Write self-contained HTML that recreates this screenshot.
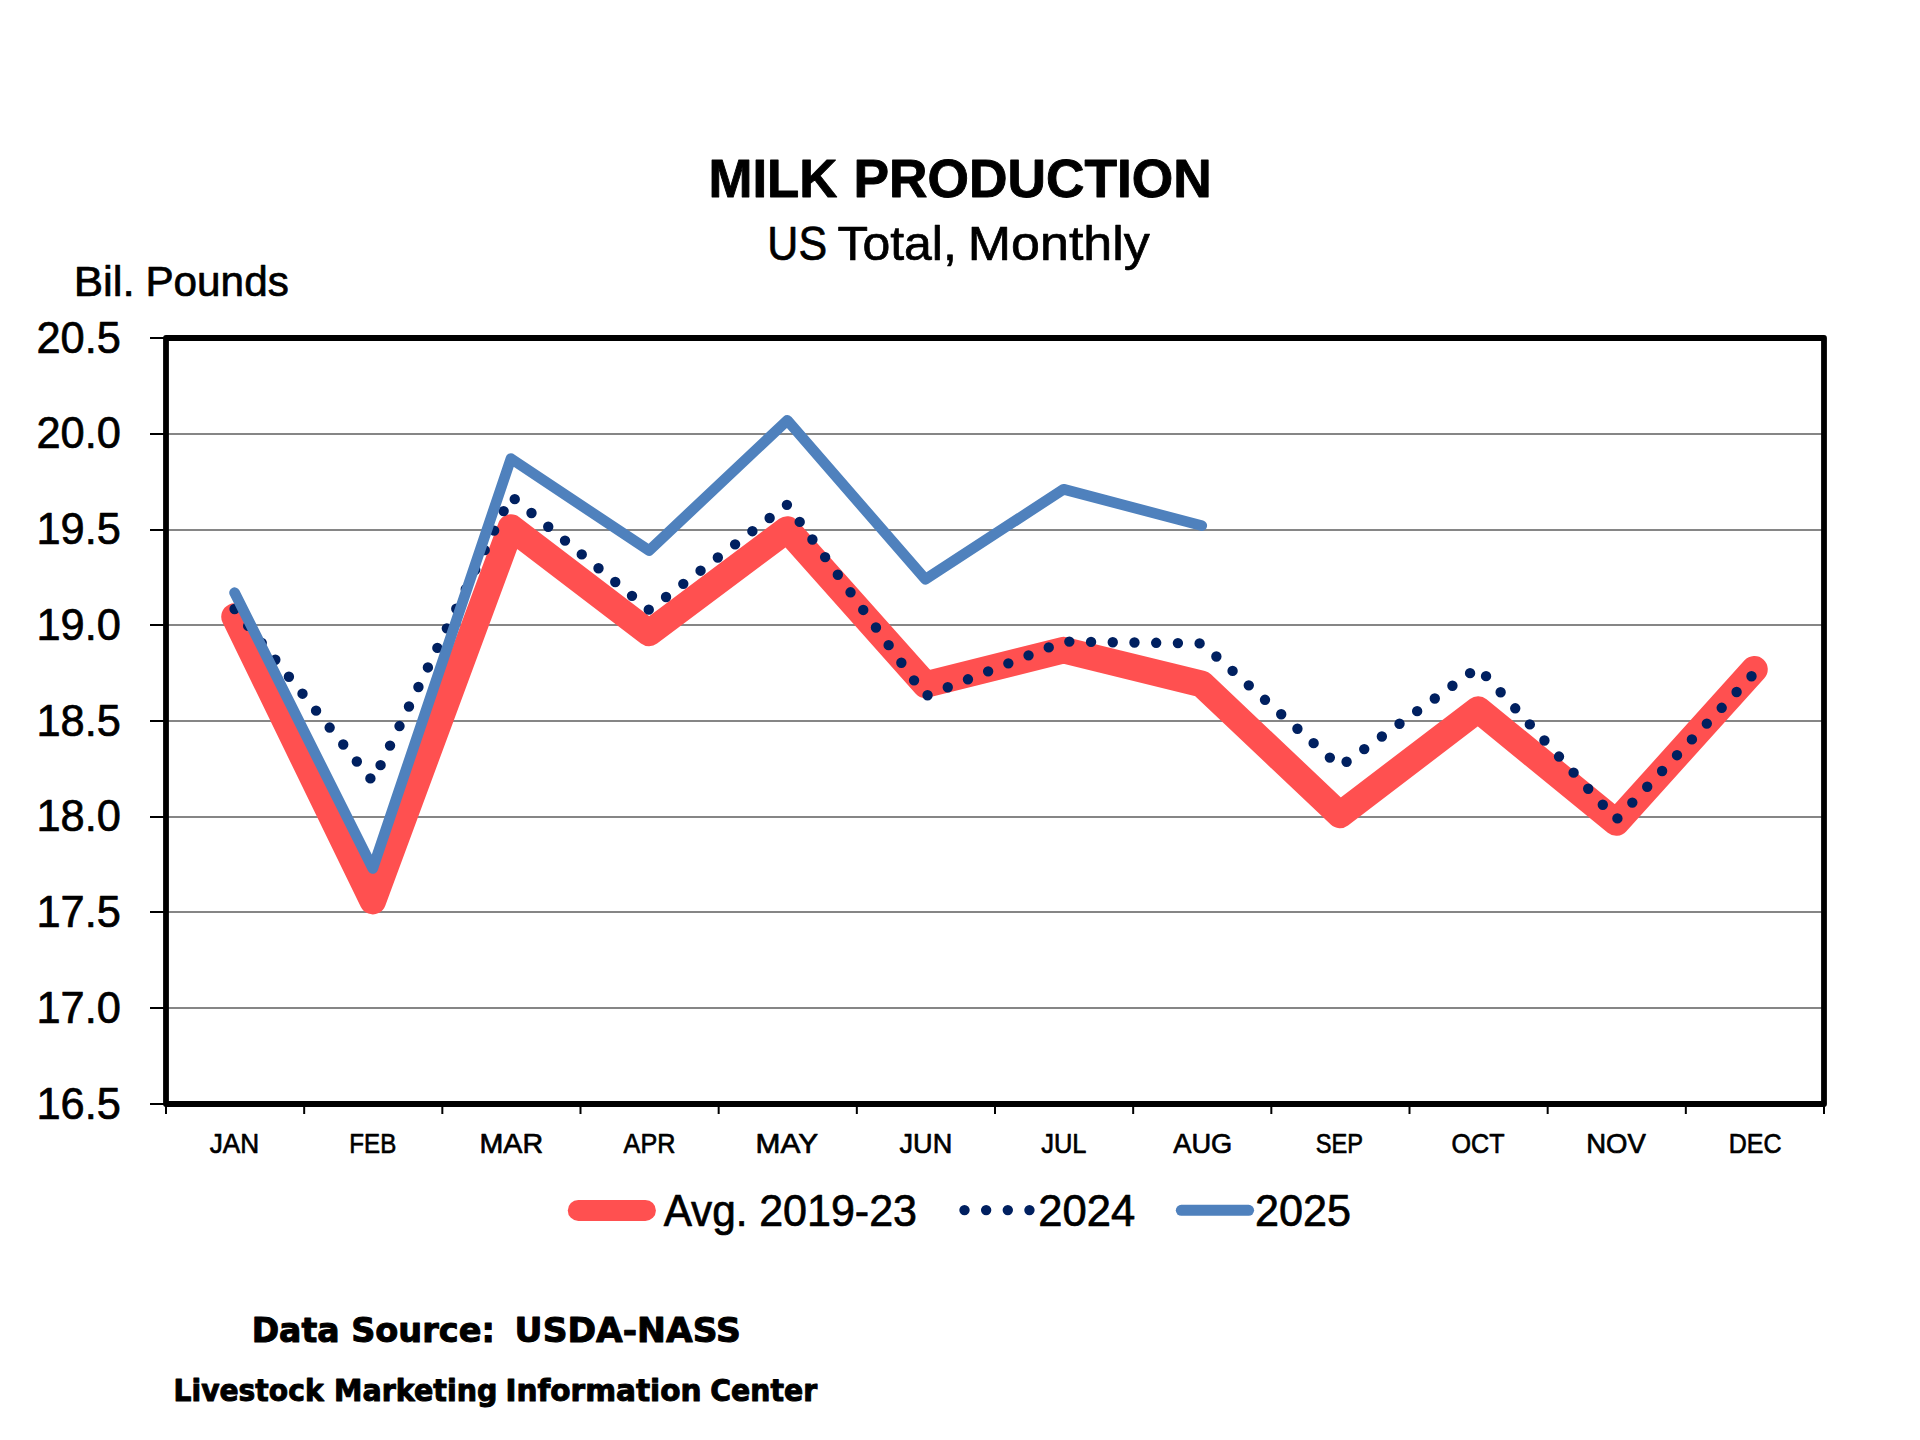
<!DOCTYPE html>
<html lang="en">
<head>
<meta charset="utf-8">
<title>Milk Production - US Total, Monthly</title>
<style>
html,body{margin:0;padding:0;background:#fff;}
body{width:1920px;height:1440px;overflow:hidden;}
svg{display:block;}
text{fill:#000;stroke:#000;stroke-linejoin:round;}
.title{font-family:"Liberation Sans",sans-serif;font-weight:bold;stroke-width:0.9px;}
.lbl{font-family:"Liberation Sans",sans-serif;font-weight:normal;stroke-width:0.7px;}
.foot{font-family:"DejaVu Sans","Liberation Sans",sans-serif;font-weight:bold;stroke-width:1px;}
.grid line{stroke:#868686;stroke-width:2;}
.ticks line{stroke:#000;stroke-width:2;}
.series polyline,.legend line{fill:none;stroke-linecap:round;stroke-linejoin:round;}
.avg{stroke:#ff5050;}
.y2024{stroke:#002060;}
.y2025{stroke:#4f81bd;}
</style>
</head>
<body>
<svg width="1920" height="1440" viewBox="0 0 1920 1440">
<rect x="0" y="0" width="1920" height="1440" fill="#ffffff"/>
<!-- horizontal gridlines -->
<g class="grid">
<line x1="166" y1="434" x2="1824" y2="434"/>
<line x1="166" y1="530" x2="1824" y2="530"/>
<line x1="166" y1="625" x2="1824" y2="625"/>
<line x1="166" y1="721" x2="1824" y2="721"/>
<line x1="166" y1="817" x2="1824" y2="817"/>
<line x1="166" y1="912" x2="1824" y2="912"/>
<line x1="166" y1="1008" x2="1824" y2="1008"/>
</g>
<!-- axis tick marks -->
<g class="ticks">
<line x1="150" y1="338" x2="166" y2="338"/>
<line x1="150" y1="434" x2="166" y2="434"/>
<line x1="150" y1="530" x2="166" y2="530"/>
<line x1="150" y1="625" x2="166" y2="625"/>
<line x1="150" y1="721" x2="166" y2="721"/>
<line x1="150" y1="817" x2="166" y2="817"/>
<line x1="150" y1="912" x2="166" y2="912"/>
<line x1="150" y1="1008" x2="166" y2="1008"/>
<line x1="150" y1="1104" x2="166" y2="1104"/>
<line x1="166.00" y1="1104" x2="166.00" y2="1114"/>
<line x1="304.17" y1="1104" x2="304.17" y2="1114"/>
<line x1="442.33" y1="1104" x2="442.33" y2="1114"/>
<line x1="580.50" y1="1104" x2="580.50" y2="1114"/>
<line x1="718.67" y1="1104" x2="718.67" y2="1114"/>
<line x1="856.83" y1="1104" x2="856.83" y2="1114"/>
<line x1="995.00" y1="1104" x2="995.00" y2="1114"/>
<line x1="1133.17" y1="1104" x2="1133.17" y2="1114"/>
<line x1="1271.33" y1="1104" x2="1271.33" y2="1114"/>
<line x1="1409.50" y1="1104" x2="1409.50" y2="1114"/>
<line x1="1547.67" y1="1104" x2="1547.67" y2="1114"/>
<line x1="1685.83" y1="1104" x2="1685.83" y2="1114"/>
<line x1="1824.00" y1="1104" x2="1824.00" y2="1114"/>
</g>
<!-- data series -->
<g class="series">
<polyline class="avg" points="234.58,616.63 372.75,901.01 510.92,527.58 649.08,632.91 787.25,529.50 925.42,684.61 1063.58,650.14 1201.75,684.04 1339.92,814.83 1478.08,709.51 1616.25,822.50 1754.42,669.30" stroke-width="26.67"/>
<polyline class="y2024" points="234.58,608.97 372.75,781.32 510.92,495.99 649.08,609.93 787.25,504.61 925.42,696.11 1063.58,641.53 1201.75,643.44 1339.92,766.58 1478.08,667.38 1616.25,819.62 1754.42,673.12" stroke-width="10.40" stroke-dasharray="0 21.715"/>
<polyline class="y2025" points="234.58,592.69 372.75,868.45 510.92,458.64 649.08,550.56 787.25,420.34 925.42,579.29 1063.58,489.28 1201.75,525.67" stroke-width="10.67"/>
</g>
<!-- plot frame -->
<rect x="166" y="338" width="1658" height="766" fill="none" stroke="#000" stroke-width="5.8" stroke-linejoin="round"/>
<!-- titles -->
<text id="title" class="title" y="197.30" font-size="53.50"><tspan x="708.51" textLength="128.90" lengthAdjust="spacingAndGlyphs">MILK</tspan> <tspan x="853.45" textLength="358.27" lengthAdjust="spacingAndGlyphs">PRODUCTION</tspan></text>
<text id="sub" class="lbl" y="260.00" font-size="49.00"><tspan x="767.37" textLength="59.68" lengthAdjust="spacingAndGlyphs">US</tspan> <tspan x="837.42" textLength="119.46" lengthAdjust="spacingAndGlyphs">Total,</tspan> <tspan x="967.78" textLength="182.02" lengthAdjust="spacingAndGlyphs">Monthly</tspan></text>
<text id="unit" class="lbl" y="295.50" font-size="42.40"><tspan x="73.70" textLength="61.15" lengthAdjust="spacingAndGlyphs">Bil.</tspan> <tspan x="145.43" textLength="143.35" lengthAdjust="spacingAndGlyphs">Pounds</tspan></text>
<!-- value axis labels -->
<g id="yaxis">
<text id="y0" class="lbl" y="352.50" font-size="43.50"><tspan x="36.50" textLength="84.40" lengthAdjust="spacingAndGlyphs">20.5</tspan></text>
<text id="y1" class="lbl" y="448.25" font-size="43.50"><tspan x="36.50" textLength="84.40" lengthAdjust="spacingAndGlyphs">20.0</tspan></text>
<text id="y2" class="lbl" y="544.00" font-size="43.50"><tspan x="36.50" textLength="84.40" lengthAdjust="spacingAndGlyphs">19.5</tspan></text>
<text id="y3" class="lbl" y="639.75" font-size="43.50"><tspan x="36.50" textLength="84.40" lengthAdjust="spacingAndGlyphs">19.0</tspan></text>
<text id="y4" class="lbl" y="735.50" font-size="43.50"><tspan x="36.50" textLength="84.40" lengthAdjust="spacingAndGlyphs">18.5</tspan></text>
<text id="y5" class="lbl" y="831.25" font-size="43.50"><tspan x="36.50" textLength="84.40" lengthAdjust="spacingAndGlyphs">18.0</tspan></text>
<text id="y6" class="lbl" y="927.00" font-size="43.50"><tspan x="36.50" textLength="84.40" lengthAdjust="spacingAndGlyphs">17.5</tspan></text>
<text id="y7" class="lbl" y="1022.75" font-size="43.50"><tspan x="36.50" textLength="84.40" lengthAdjust="spacingAndGlyphs">17.0</tspan></text>
<text id="y8" class="lbl" y="1118.50" font-size="43.50"><tspan x="36.50" textLength="84.40" lengthAdjust="spacingAndGlyphs">16.5</tspan></text>
</g>
<!-- category axis labels -->
<g id="xaxis">
<text id="x0" class="lbl" y="1153.40" font-size="28.50"><tspan x="209.63" textLength="49.44" lengthAdjust="spacingAndGlyphs">JAN</tspan></text>
<text id="x1" class="lbl" y="1153.40" font-size="28.50"><tspan x="349.33" textLength="46.91" lengthAdjust="spacingAndGlyphs">FEB</tspan></text>
<text id="x2" class="lbl" y="1153.40" font-size="28.50"><tspan x="479.48" textLength="63.59" lengthAdjust="spacingAndGlyphs">MAR</tspan></text>
<text id="x3" class="lbl" y="1153.40" font-size="28.50"><tspan x="623.62" textLength="51.78" lengthAdjust="spacingAndGlyphs">APR</tspan></text>
<text id="x4" class="lbl" y="1153.40" font-size="28.50"><tspan x="755.64" textLength="62.51" lengthAdjust="spacingAndGlyphs">MAY</tspan></text>
<text id="x5" class="lbl" y="1153.40" font-size="28.50"><tspan x="899.58" textLength="52.67" lengthAdjust="spacingAndGlyphs">JUN</tspan></text>
<text id="x6" class="lbl" y="1153.40" font-size="28.50"><tspan x="1041.19" textLength="45.26" lengthAdjust="spacingAndGlyphs">JUL</tspan></text>
<text id="x7" class="lbl" y="1153.40" font-size="28.50"><tspan x="1173.26" textLength="58.98" lengthAdjust="spacingAndGlyphs">AUG</tspan></text>
<text id="x8" class="lbl" y="1153.40" font-size="28.50"><tspan x="1315.77" textLength="47.30" lengthAdjust="spacingAndGlyphs">SEP</tspan></text>
<text id="x9" class="lbl" y="1153.40" font-size="28.50"><tspan x="1451.49" textLength="52.98" lengthAdjust="spacingAndGlyphs">OCT</tspan></text>
<text id="x10" class="lbl" y="1153.40" font-size="28.50"><tspan x="1586.13" textLength="59.63" lengthAdjust="spacingAndGlyphs">NOV</tspan></text>
<text id="x11" class="lbl" y="1153.40" font-size="28.50"><tspan x="1728.79" textLength="52.70" lengthAdjust="spacingAndGlyphs">DEC</tspan></text>
</g>
<!-- legend -->
<g class="legend">
<line class="avg" x1="578.3" y1="1210.4" x2="645.4" y2="1210.4" stroke-width="21"/>
<text id="lg1" class="lbl" y="1225.50" font-size="43.50"><tspan x="663.63" textLength="83.97" lengthAdjust="spacingAndGlyphs">Avg.</tspan> <tspan x="759.13" textLength="157.93" lengthAdjust="spacingAndGlyphs">2019-23</tspan></text>
<line class="y2024" x1="964.5" y1="1210.1" x2="1031.6" y2="1210.1" stroke-width="10.40" stroke-dasharray="0 21.65"/>
<text id="lg2" class="lbl" y="1225.50" font-size="43.50"><tspan x="1038.24" textLength="96.94" lengthAdjust="spacingAndGlyphs">2024</tspan></text>
<line class="y2025" x1="1181.3" y1="1210.3" x2="1248.6" y2="1210.3" stroke-width="11"/>
<text id="lg3" class="lbl" y="1225.50" font-size="43.50"><tspan x="1254.96" textLength="95.98" lengthAdjust="spacingAndGlyphs">2025</tspan></text>
</g>
<!-- source notes -->
<text id="src" class="foot" y="1342.00" font-size="33.70"><tspan x="251.68" textLength="87.91" lengthAdjust="spacingAndGlyphs">Data</tspan> <tspan x="351.16" textLength="143.66" lengthAdjust="spacingAndGlyphs">Source:</tspan>  <tspan x="514.64" textLength="226.15" lengthAdjust="spacingAndGlyphs">USDA-NASS</tspan></text>
<text id="lmic" class="foot" y="1401.30" font-size="30.20"><tspan x="173.56" textLength="150.06" lengthAdjust="spacingAndGlyphs">Livestock</tspan> <tspan x="334.09" textLength="163.31" lengthAdjust="spacingAndGlyphs">Marketing</tspan> <tspan x="505.41" textLength="196.13" lengthAdjust="spacingAndGlyphs">Information</tspan> <tspan x="710.32" textLength="106.83" lengthAdjust="spacingAndGlyphs">Center</tspan></text>
</svg>
</body>
</html>
